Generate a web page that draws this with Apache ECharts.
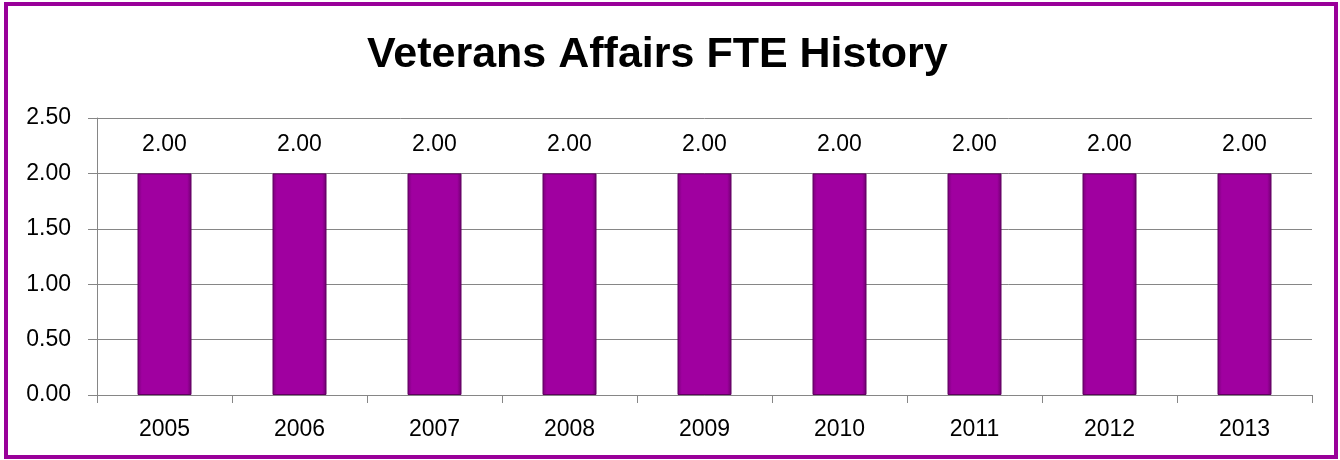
<!DOCTYPE html>
<html>
<head>
<meta charset="utf-8">
<script src="https://cdn.jsdelivr.net/npm/echarts@6/dist/echarts.min.js"></script>
<style>
html,body{margin:0;padding:0;background:#fff;}
#chart{width:1340px;height:460px;}
</style>
</head>
<body>
<div id="chart"></div>
<script>
const titleText = 'Veterans Affairs FTE History';
const categories = ['2005','2006','2007','2008','2009','2010','2011','2012','2013'];
const fteValues = [2.00, 2.00, 2.00, 2.00, 2.00, 2.00, 2.00, 2.00, 2.00];

const chart = echarts.init(document.getElementById('chart'));
const font = 'Liberation Sans';
chart.setOption({
  animation: false,
  backgroundColor: '#ffffff',
  title: {
    text: titleText,
    left: 362,
    top: 29,
    textStyle: { fontFamily: font, fontSize: 43, fontWeight: 'bold', color: '#000' }
  },
  graphic: [{
    type: 'rect',
    shape: { x: 6, y: 4, width: 1330, height: 453 },
    style: { fill: 'none', stroke: '#990099', lineWidth: 4 },
    silent: true
  }],
  grid: { left: 97, right: 28, top: 118, bottom: 65 },
  xAxis: {
    type: 'category',
    data: categories,
    axisLine: { lineStyle: { color: '#868686', width: 1 } },
    axisTick: { show: true, length: 8, alignWithLabel: false, lineStyle: { color: '#868686' } },
    axisLabel: { fontFamily: font, fontSize: 23, color: '#000', margin: 23 }
  },
  yAxis: {
    type: 'value',
    min: 0, max: 2.5, interval: 0.5,
    axisLine: { show: true, lineStyle: { color: '#868686', width: 1 } },
    axisTick: { show: true, length: 9, lineStyle: { color: '#868686' } },
    splitLine: { lineStyle: { color: '#868686', width: 1 } },
    axisLabel: { fontFamily: font, fontSize: 23, color: '#000', margin: 26,
      formatter: v => v.toFixed(2) }
  },
  series: [{
    type: 'bar',
    data: fteValues,
    barWidth: 54,
    itemStyle: {
      color: new echarts.graphic.LinearGradient(0, 0, 1, 0, [
        { offset: 0, color: '#7a007a' },
        { offset: 0.08, color: '#a000a0' },
        { offset: 0.92, color: '#a000a0' },
        { offset: 1, color: '#6e006e' }
      ]),
      borderColor: '#5e005e',
      borderWidth: 1
    },
    label: {
      show: true,
      position: 'top',
      distance: 17,
      fontFamily: font,
      fontSize: 23,
      color: '#000',
      formatter: p => p.value.toFixed(2)
    }
  }]
});
</script>
</body>
</html>
